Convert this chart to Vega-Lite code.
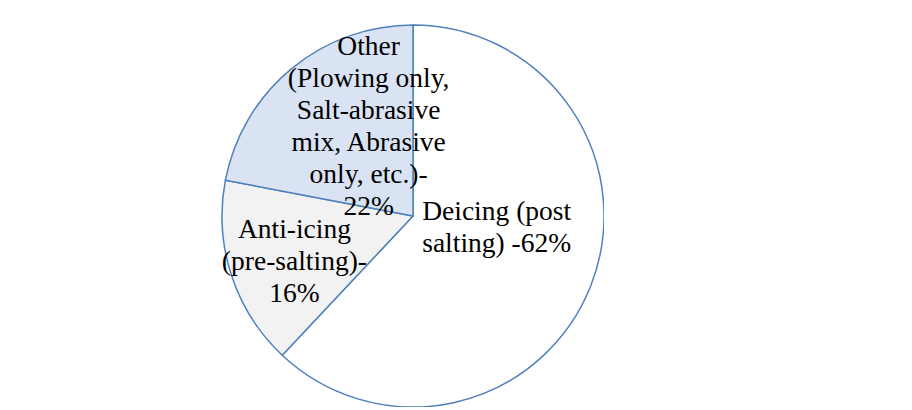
{
  "$schema": "https://vega.github.io/schema/vega-lite/v6.json",
  "width": 382,
  "height": 382,
  "autosize": "none",
  "padding": {"left": 222, "top": 25, "right": 0, "bottom": 0},
  "background": "white",
  "view": {"stroke": null},
  "data": {
    "values": [
      {"key": "Deicing", "label": "Deicing (post\nsalting) -62%", "value": 62},
      {"key": "Anti", "label": "Anti-icing\n(pre-salting)-\n16%", "value": 16},
      {"key": "Other", "label": "Other\n(Plowing only,\nSalt-abrasive\nmix, Abrasive\nonly, etc.)-\n22%", "value": 22}
    ]
  },
  "transform": [
    {"calculate": "indexof(['Deicing','Anti','Other'], datum.key)", "as": "ord"}
  ],
  "encoding": {
    "theta": {"field": "value", "type": "quantitative", "stack": true},
    "order": {"field": "ord", "type": "quantitative", "sort": "ascending"}
  },
  "layer": [
    {
      "mark": {"type": "arc", "outerRadius": 191, "stroke": "#4f81bd", "strokeWidth": 1.5},
      "encoding": {
        "color": {
          "field": "key",
          "type": "nominal",
          "scale": {"domain": ["Deicing", "Anti", "Other"], "range": ["#ffffff", "#f2f2f2", "#dae3f3"]},
          "legend": null
        }
      }
    },
    {
      "mark": {
        "type": "text",
        "font": "Liberation Serif",
        "fontSize": 27.5,
        "lineHeight": 32,
        "lineBreak": "\n",
        "align": "center",
        "baseline": "middle",
        "color": "#000000",
        "radius": 90,
        "dx": {"expr": "datum.key === 'Other' ? 13 : (datum.key === 'Anti' ? -33 : 0)"},
        "dy": {"expr": "datum.key === 'Other' ? -100 : (datum.key === 'Anti' ? -14 : -37)"}
      },
      "encoding": {
        "text": {"field": "label", "type": "nominal"}
      }
    }
  ]
}
